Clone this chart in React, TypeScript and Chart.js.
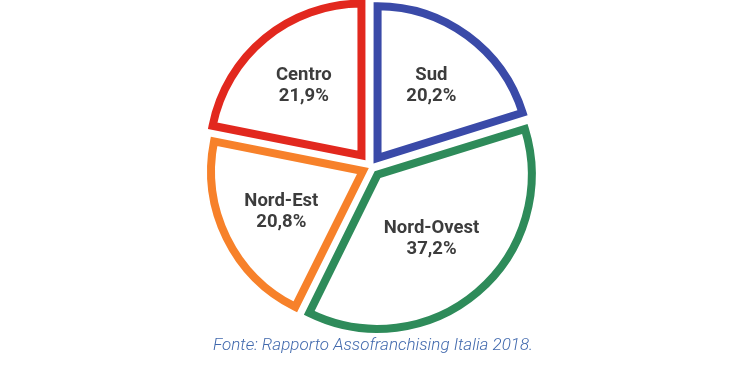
import React, { useEffect, useRef } from "react";
import { Chart, registerables } from "chart.js";

Chart.register(...registerables);

const categories = ["Sud", "Nord-Ovest", "Nord-Est", "Centro"];
const shares = [20.2, 37.2, 20.8, 21.9];
const borderColors = ["#3a4aa8", "#2e8b5a", "#f7812a", "#e2281e"];
const sliceOffsets = [44, 40, 36, 60];
const labelRadius = [0.6, 0.55, 0.6, 0.6];
const caption = "Fonte: Rapporto Assofranchising Italia 2018.";

const fmt = (v: number) => v.toFixed(1).replace(".", ",") + "%";

const labelPlugin = {
  id: "sliceLabels",
  afterDatasetsDraw(chart: any) {
    const ctx = chart.ctx;
    const meta = chart.getDatasetMeta(0);
    ctx.save();
    ctx.fillStyle = "#3c3c3c";
    ctx.font = "bold 18.5px Roboto";
    ctx.textAlign = "center";
    ctx.textBaseline = "middle";
    meta.data.forEach((arc: any, i: number) => {
      const mid = (arc.startAngle + arc.endAngle) / 2;
      const t = (arc.options.offset || 0) / 4;
      const r = arc.outerRadius * labelRadius[i] + t;
      const x = arc.x + Math.cos(mid) * r;
      const y = arc.y + Math.sin(mid) * r;
      ctx.fillText(categories[i], x, y - 10);
      ctx.fillText(fmt(shares[i]), x, y + 11);
    });
    ctx.restore();
  },
  afterDraw(chart: any) {
    const ctx = chart.ctx;
    ctx.save();
    ctx.fillStyle = "#4169ad";
    ctx.font = "italic 300 17px Roboto";
    ctx.textAlign = "center";
    ctx.textBaseline = "middle";
    ctx.fillText(caption, 373, 346);
    ctx.restore();
  },
};

export default function App() {
  const ref = useRef<HTMLCanvasElement>(null);
  useEffect(() => {
    if (!ref.current) return;
    const chart = new Chart(ref.current, {
      type: "pie",
      data: {
        labels: categories,
        datasets: [
          {
            data: shares,
            backgroundColor: "#ffffff",
            borderColor: borderColors,
            borderWidth: 8,
            borderJoinStyle: "miter",
            offset: sliceOffsets,
          } as any,
        ],
      },
      options: {
        animation: false,
        responsive: false,
        devicePixelRatio: 1,
        radius: 151.5,
        layout: { padding: { left: 7, right: 0, top: 0, bottom: 32 } },
        plugins: {
          legend: { display: false },
          tooltip: { enabled: false },
        },
      } as any,
      plugins: [labelPlugin],
    });
    return () => chart.destroy();
  }, []);
  return (
    <div style={{ position: "fixed", left: 0, top: 0, width: 735, height: 366, background: "#fff" }}>
      <canvas ref={ref} width={735} height={366} />
    </div>
  );
}
